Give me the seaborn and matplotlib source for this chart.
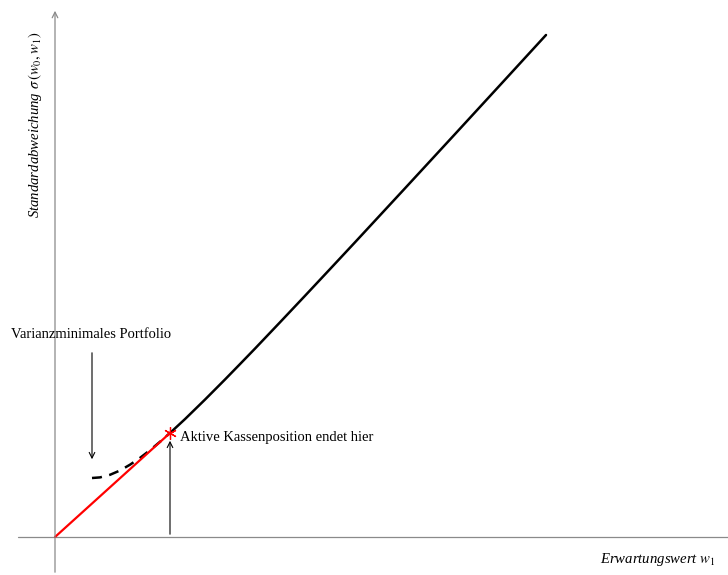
import matplotlib
matplotlib.use("Agg")
import matplotlib.pyplot as plt
import seaborn as sns
import pandas as pd

# data (arbitrary units)
cash_x = [0.0, 1.15]
cash_y = [0.0, 1.04]

dashed_x = [0.37, 0.45, 0.55, 0.65, 0.75, 0.85, 0.95, 1.05, 1.15]
dashed_y = [0.590, 0.596, 0.622, 0.665, 0.723, 0.791, 0.868, 0.952, 1.04]

front_x = [1.15, 1.3, 1.5, 1.7, 1.85, 2.0, 2.25, 2.5, 2.75, 3.0,
           3.25, 3.5, 3.75, 4.0, 4.25, 4.5, 4.91]
front_y = [1.040, 1.179, 1.374, 1.575, 1.729, 1.884, 2.147, 2.412, 2.679,
           2.947, 3.217, 3.487, 3.758, 4.029, 4.301, 4.573, 5.020]

min_var_label = "Varianzminimales Portfolio"
cash_end_label = "Aktive Kassenposition endet hier"
x_label = r"Erwartungswert $w_1$"
y_label = r"Standardabweichung $\sigma\,\left(w_0,w_1\right)$"

sns.set_style("white")
plt.rcParams["font.family"] = ["Liberation Serif", "DejaVu Serif"]
plt.rcParams["mathtext.fontset"] = "stix"
plt.rcParams["text.color"] = "black"

fig = plt.figure(figsize=(7.28, 5.75), dpi=100)
ax = fig.add_axes([0, 0, 1, 1])
ax.set_xlim(-0.55, 6.73)
ax.set_ylim(-0.38, 5.37)
ax.axis("off")

grey = "#8a8a8a"
# axes with arrows
ax.plot([-0.37, 6.73], [0, 0], color=grey, lw=0.9)
ax.annotate("", xy=(0, 5.29), xytext=(0, -0.38),
            arrowprops=dict(arrowstyle="->", color=grey, lw=0.9))

sns.lineplot(x=front_x, y=front_y, ax=ax, color="black", lw=1.8, sort=False)
sns.lineplot(x=dashed_x, y=dashed_y, ax=ax, color="black", lw=1.8,
             linestyle=(0, (4, 3)), sort=False)
sns.lineplot(x=cash_x, y=cash_y, ax=ax, color="red", lw=1.6, sort=False)
ax.plot(cash_x[-1], cash_y[-1], marker=(6, 2, 0), color="red", ms=9, mew=0.9)

# annotations
ax.text(0.36, 2.02, min_var_label, ha="center", va="center", fontsize=10.5)
ax.annotate("", xy=(dashed_x[0], 0.75), xytext=(dashed_x[0], 1.87),
            arrowprops=dict(arrowstyle="->", color="black", lw=0.8))
ax.annotate("", xy=(cash_x[-1], 0.99), xytext=(cash_x[-1], 0.0),
            arrowprops=dict(arrowstyle="->", color="black", lw=0.8))
ax.text(1.25, 1.0, cash_end_label, ha="left", va="center", fontsize=10.5)

ax.text(6.61, -0.23, x_label, ha="right", va="center", fontsize=10.6,
        style="italic")
ax.text(-0.2, 4.12, y_label, ha="center", va="center", fontsize=10.6,
        style="italic", rotation=90)

fig.savefig("out.png", dpi=100)
